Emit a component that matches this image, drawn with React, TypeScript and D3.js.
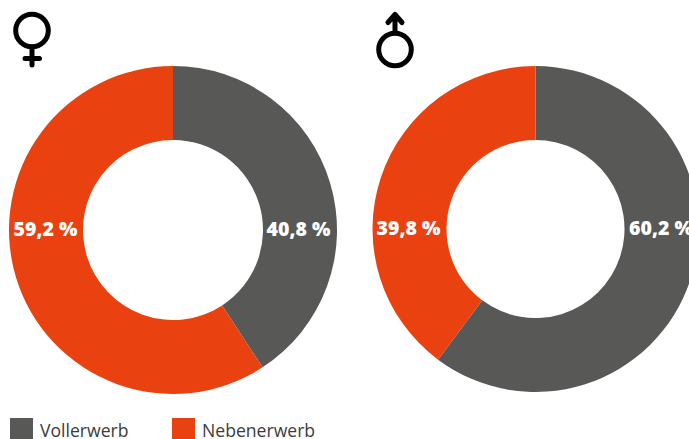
import React from "react";
import * as d3 from "d3";

const categories = ["Vollerwerb", "Nebenerwerb"];
const colors = ["#585856", "#E94210"];
const panelNames = ["female", "male"];
const femaleValues = [40.8, 59.2];
const maleValues = [60.2, 39.8];
const femaleLabels = ["40,8 %", "59,2 %"];
const maleLabels = ["60,2 %", "39,8 %"];

const W = 689, H = 439;
const pie = d3.pie<number>().sort(null);
const labelStyle = { fontFamily: "'Open Sans', sans-serif", fontWeight: 800, fontSize: 19.5 };

function Donut({ cx, cy, R, r, values, labels, rightX, leftX }: any) {
  const arc = d3.arc<any>().innerRadius(r).outerRadius(R);
  const arcs = pie(values);
  return (
    <g transform={`translate(${cx},${cy})`}>
      {arcs.map((a, i) => (
        <path key={i} d={arc(a) || ""} fill={colors[i]} />
      ))}
      <text x={rightX} y={5.5} textAnchor="middle" style={labelStyle} fill="#fff">{labels[0]}</text>
      <text x={leftX} y={5.5} textAnchor="middle" style={labelStyle} fill="#fff">{labels[1]}</text>
    </g>
  );
}

export default function App() {
  return (
    <svg width={W} height={H} viewBox={`0 0 ${W} ${H}`} style={{ position: "fixed", left: 0, top: 0, display: "block", background: "#fff" }}>
      <Donut cx={173} cy={230} R={164} r={90} values={femaleValues} labels={femaleLabels} rightX={125.5} leftX={-127.5} />
      <Donut cx={535.5} cy={229} R={163} r={89} values={maleValues} labels={maleLabels} rightX={125.5} leftX={-127} />
      <g fill="none" stroke="#000" strokeWidth={5} strokeLinecap="round" strokeLinejoin="round">
        <g>
          <title>{panelNames[0]}</title>
          <circle cx={32} cy={30.5} r={16.3} />
          <path d="M32 47V65M25 58.5H39.5" />
        </g>
        <g>
          <title>{panelNames[1]}</title>
          <circle cx={395} cy={49.5} r={16.3} />
          <path d="M395 33V15M388 22.5L395 14.5L402 22.5" />
        </g>
      </g>
      {categories.map((c, i) => {
        const x = [10, 172][i];
        return (
          <g key={c}>
            <rect x={x} y={418} width={23} height={21} fill={colors[i]} />
            <text x={x + 30} y={436.5} fontFamily="'Open Sans', sans-serif" fontSize={17.6} fill="#3c3c3b">{c}</text>
          </g>
        );
      })}
    </svg>
  );
}
